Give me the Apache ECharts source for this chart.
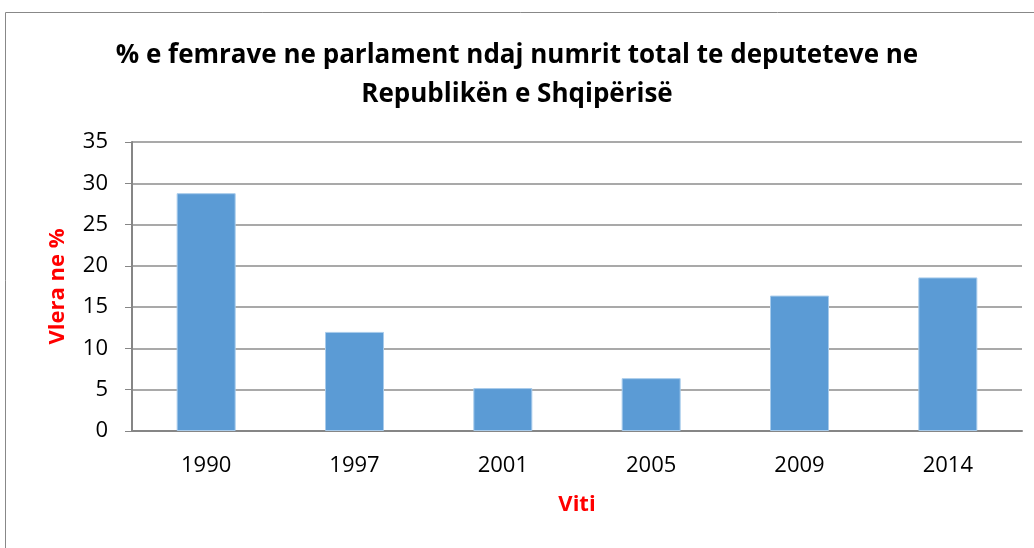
<!DOCTYPE html>
<html>
<head>
<meta charset="utf-8">
<script src="https://cdn.jsdelivr.net/npm/echarts@6/dist/echarts.min.js"></script>
<style>
  html, body { margin: 0; padding: 0; background: #fff; }
  #chart { width: 1034px; height: 548px; }
</style>
</head>
<body>
<div id="chart"></div>
<script>
// Data
const years = ['1990', '1997', '2001', '2005', '2009', '2014'];
const womenShare = [28.8, 12.0, 5.2, 6.4, 16.4, 18.6];
const yTicks = { min: 0, max: 35, interval: 5 };

const titleLines = ['% e femrave ne parlament ndaj numrit total te deputeteve ne', 'Republikën e Shqipërisë'];

const FONT = '"Open Sans", "Liberation Sans", sans-serif';

const chart = echarts.init(document.getElementById('chart'));
chart.setOption({
    animation: false,
    backgroundColor: '#fff',
    textStyle: { fontFamily: FONT },
    graphic: [{
        type: 'rect', left: 3, top: 10,
        shape: { width: 1040, height: 560 },
        style: { fill: 'none', stroke: '#888', lineWidth: 1 }
    }],
    title: {
        text: titleLines.join('\n'),
        left: 'center', top: 31,
        textStyle: { fontFamily: FONT, fontSize: 26, fontWeight: 'bold', color: '#000', lineHeight: 39 }
    },
    grid: { left: 132, right: 12, top: 142, bottom: 117, containLabel: false },
    xAxis: {
        type: 'category', data: years,
        name: 'Viti', nameLocation: 'middle', nameGap: 63,
        nameTextStyle: { color: '#ff0000', fontWeight: 'bold', fontSize: 22, fontFamily: FONT },
        axisLine: { lineStyle: { color: '#868686', width: 2 } },
        axisTick: { show: false },
        axisLabel: { color: '#000', fontSize: 22, margin: 24, fontFamily: FONT }
    },
    yAxis: {
        type: 'value', min: yTicks.min, max: yTicks.max, interval: yTicks.interval,
        name: 'Vlera ne %', nameLocation: 'middle', nameGap: 63, nameRotate: 90,
        nameTextStyle: { color: '#ff0000', fontWeight: 'bold', fontSize: 22, fontFamily: FONT },
        axisLine: { show: true, lineStyle: { color: '#868686', width: 2 } },
        axisTick: { show: true, inside: false, length: 7, lineStyle: { color: '#868686', width: 1 } },
        splitLine: { show: true, lineStyle: { color: '#8c8c8c', width: 1.5 } },
        axisLabel: { color: '#000', fontSize: 22, margin: 24, fontFamily: FONT }
    },
    series: [{
        type: 'bar', data: womenShare,
        barWidth: 59,
        itemStyle: { color: '#5b9bd5', borderColor: '#a8cbeb', borderWidth: 1 }
    }]
});
</script>
</body>
</html>
